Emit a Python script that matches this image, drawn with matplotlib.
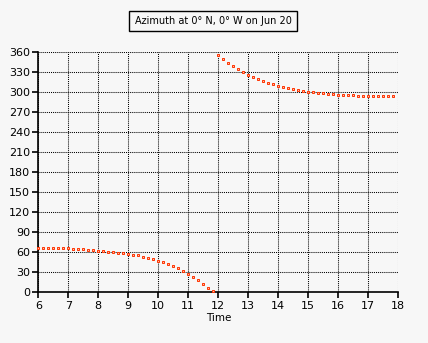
import matplotlib
matplotlib.use("Agg")
import matplotlib.pyplot as plt
import numpy as np

# ============================================================
# DATA  (solar azimuth in degrees, sampled every 10 minutes)
# ============================================================

STEP = 1 / 6

morning_start = 6.0
morning_azimuth = [
    66, 66, 66, 66, 66, 66, 66, 64.5, 64.5, 64.5,
    63, 63, 61.5, 61.5, 60, 60, 58.5, 58.5, 57, 55.5,
    55.5, 52.5, 51, 49.5, 46.5, 45, 42, 39, 36, 31.5,
    27, 22.5, 18, 12, 6, 1.5,
]

afternoon_start = 12.0
afternoon_azimuth = [
    355.5, 349.5, 343.5, 339, 334.5, 330, 325.5, 322.5, 319.5, 316.5,
    313.5, 312, 309, 307.5, 306, 304.5, 303, 301.5, 300, 300,
    298.5, 298.5, 297, 297, 295.5, 295.5, 295.5, 295.5, 294, 294,
    294, 294, 294, 294, 294, 294,
]

x_ticks = [6, 7, 8, 9, 10, 11, 12, 13, 14, 15, 16, 17, 18]
y_ticks = [0, 30, 60, 90, 120, 150, 180, 210, 240, 270, 300, 330, 360]

TITLE = "Azimuth at 0° N, 0° W on Jun 20"
BG = "#f7f7f7"
RED = "#ff3300"

morning_t = morning_start + STEP * np.arange(len(morning_azimuth))
afternoon_t = afternoon_start + STEP * np.arange(len(afternoon_azimuth))

# ============================================================
# PLOT
# ============================================================

plt.rcParams["font.family"] = "DejaVu Sans"

fig = plt.figure(figsize=(4.28, 3.43), dpi=100, facecolor=BG)
ax = fig.add_axes([38.3 / 428, 1 - 292.3 / 343, 360 / 428, 240 / 343])
ax.set_facecolor(BG)

for t, az in ((morning_t, morning_azimuth), (afternoon_t, afternoon_azimuth)):
    ax.plot(t, az, linestyle="none", marker="s", markersize=1.6,
            markerfacecolor="#ffc0a8", markeredgecolor=RED,
            markeredgewidth=0.7, clip_on=False, zorder=3)

ax.set_xlim(6, 18)
ax.set_ylim(0, 360)
ax.set_xticks(x_ticks)
ax.set_yticks(y_ticks)

ax.grid(True, color="black", linestyle=(0, (1, 1)), linewidth=0.75)
for spine in ("top", "right"):
    ax.spines[spine].set_visible(False)
for spine in ("left", "bottom"):
    ax.spines[spine].set_linewidth(1.2)

ax.tick_params(direction="out", length=4, width=1.2, pad=2,
               labelsize=8)

ax.set_xlabel("Time", fontsize=7.5, labelpad=2)

# boxed title above the plot
fig.text(213 / 428, 1 - 21 / 343, TITLE, fontsize=7,
         ha="center", va="center",
         bbox=dict(boxstyle="square,pad=0.55", facecolor=BG,
                   edgecolor="black", linewidth=1.0))

fig.savefig("out.png", dpi=100, facecolor=BG)
